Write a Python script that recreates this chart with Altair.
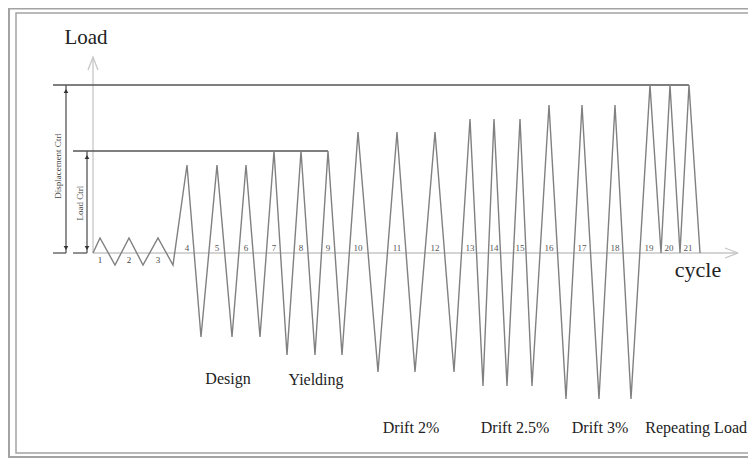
import altair as alt
import pandas as pd

# ---- data ----
# loading path: time position vs. load amplitude
path_t = [0, 7, 22, 36, 50, 65, 80,
          94, 108, 124, 139, 153, 167,
          181, 194, 208, 222, 235, 249,
          265, 285, 304, 322, 342, 361,
          377, 390, 401, 414, 427, 439,
          456, 473, 489, 506, 522, 538,
          557, 568, 577, 587, 596, 607]
path_load = [0, 15, -12, 15, -12, 15, -12,
             88, -84, 88, -84, 88, -84,
             102, -102, 102, -102, 102, -102,
             121, -119, 121, -119, 121, -119,
             134, -133, 134, -133, 134, -133,
             148, -146, 148, -146, 148, -146,
             168, 0, 168, 0, 168, 0]

small_labels = ["1", "2", "3"]
small_t = [7, 36, 65]

cycle_labels = [str(i) for i in range(4, 22)]
cycle_t = [94, 124, 153, 181, 208, 235, 265, 304, 342,
           377, 401, 427, 456, 489, 522, 556, 576, 595]

stage_names = ["Design", "Yielding", "Drift 2%", "Drift 2.5%", "Drift 3%"]
stage_t = [135, 223, 318, 422, 507]
stage_load = [-126, -127, -175, -175, -175]
last_stage = ["Repeating Load"]
last_stage_t = [655]          # right edge of the text
last_stage_load = [-175]

disp_level = 168
load_level = 102

# ---- scales ----
xs = alt.Scale(domain=[-85, 655], nice=False, zero=False)
ys = alt.Scale(domain=[-206, 245], nice=False, zero=False)
X = lambda f: alt.X(f, type="quantitative", scale=xs, axis=None)
Y = lambda f: alt.Y(f, type="quantitative", scale=ys, axis=None)

# frame (double border)
frame_df = pd.DataFrame({"t": [-84, -77], "t2": [700, 700],
                         "y": [244.5, 240], "y2": [-204, -200], "w": [2.0, 1.5]})
frame = alt.Chart(frame_df).mark_rect(fill=None, stroke="#a3a3a3").encode(
    x=X("t"), x2="t2", y=Y("y"), y2="y2",
    strokeWidth=alt.StrokeWidth("w:Q", scale=None))

# axes with open arrow heads
axes_df = pd.DataFrame({
    "t":    [0, 0, -5, 0, 5, 0, 645, 632, 645, 632, 645],
    "load": [0, 196, 183, 196, 183, 0, 0, 5, 0, -5, 0],
    "seg":  ["v", "v", "vh", "vh", "vh", "h", "h", "h1", "h1", "h2", "h2"],
    "o":    list(range(11)),
})
axes = alt.Chart(axes_df).mark_line(color="#c6c6c6", strokeWidth=1.3).encode(
    x=X("t"), y=Y("load"), detail="seg:N", order="o:Q")

# control / dimension lines
ctrl_df = pd.DataFrame({
    "t":  [-40, -20, -27, -6, -40, -20],
    "t2": [596, 235, -27, -6, -27, -6],
    "y":  [disp_level, load_level, disp_level, load_level, 0, 0],
    "y2": [disp_level, load_level, 0, 0, 0, 0],
})
ctrl = alt.Chart(ctrl_df).mark_rule(color="#555555", strokeWidth=1.3).encode(
    x=X("t"), x2="t2", y=Y("y"), y2="y2")

arrow_df = pd.DataFrame({
    "t": [-27, -27, -6, -6],
    "load": [disp_level - 6, 5, load_level - 6, 5],
    "shape": ["triangle-up", "triangle-down", "triangle-up", "triangle-down"],
})
arrows = alt.Chart(arrow_df).mark_point(filled=True, color="#333333", size=22, opacity=1).encode(
    x=X("t"), y=Y("load"), shape=alt.Shape("shape:N", scale=None))

# loading path
path_df = pd.DataFrame({"t": path_t, "load": path_load, "o": list(range(len(path_t)))})
path = alt.Chart(path_df).mark_line(color="#808080", strokeWidth=1.4).encode(
    x=X("t"), y=Y("load"), order="o:Q")

# texts
serif = "Liberation Serif"
small_df = pd.DataFrame({"t": small_t, "load": [-7] * 3, "lab": small_labels})
small_txt = alt.Chart(small_df).mark_text(font=serif, fontSize=9, color="#444").encode(
    x=X("t"), y=Y("load"), text="lab:N")

cyc_df = pd.DataFrame({"t": cycle_t, "load": [5] * len(cycle_t), "lab": cycle_labels})
cyc_txt = alt.Chart(cyc_df).mark_text(font=serif, fontSize=9, color="#555").encode(
    x=X("t"), y=Y("load"), text="lab:N")

stage_df = pd.DataFrame({"t": stage_t, "load": stage_load, "lab": stage_names})
stage_txt = alt.Chart(stage_df).mark_text(font=serif, fontSize=16, color="#222").encode(
    x=X("t"), y=Y("load"), text="lab:N")

last_df = pd.DataFrame({"t": last_stage_t, "load": last_stage_load, "lab": last_stage})
last_txt = alt.Chart(last_df).mark_text(font=serif, fontSize=16, color="#222",
                                        align="right", dx=-1).encode(
    x=X("t"), y=Y("load"), text="lab:N")

title_df = pd.DataFrame({"t": [-7, 605], "load": [215, -17], "lab": ["Load", "cycle"],
                         "fs": [21, 22]})
title_txt = alt.Chart(title_df).mark_text(font=serif, color="#222").encode(
    x=X("t"), y=Y("load"), text="lab:N", size=alt.Size("fs:Q", scale=None))

rot_df = pd.DataFrame({"t": [-35, -13], "load": [87, 50], "lab": ["Displacement Ctrl", "Load Ctrl"]})
rot_txt = alt.Chart(rot_df).mark_text(font=serif, fontSize=9, angle=270, color="#444").encode(
    x=X("t"), y=Y("load"), text="lab:N")

chart = alt.layer(frame, axes, ctrl, path, arrows, small_txt, cyc_txt, stage_txt,
                  last_txt, title_txt, rot_txt).properties(
    width=740, height=451, padding=0,
    autosize=alt.AutoSizeParams(type="none"),
    background="white",
).configure_view(stroke=None)

chart.save("out.html", embed_options={"renderer": "svg", "actions": False})
